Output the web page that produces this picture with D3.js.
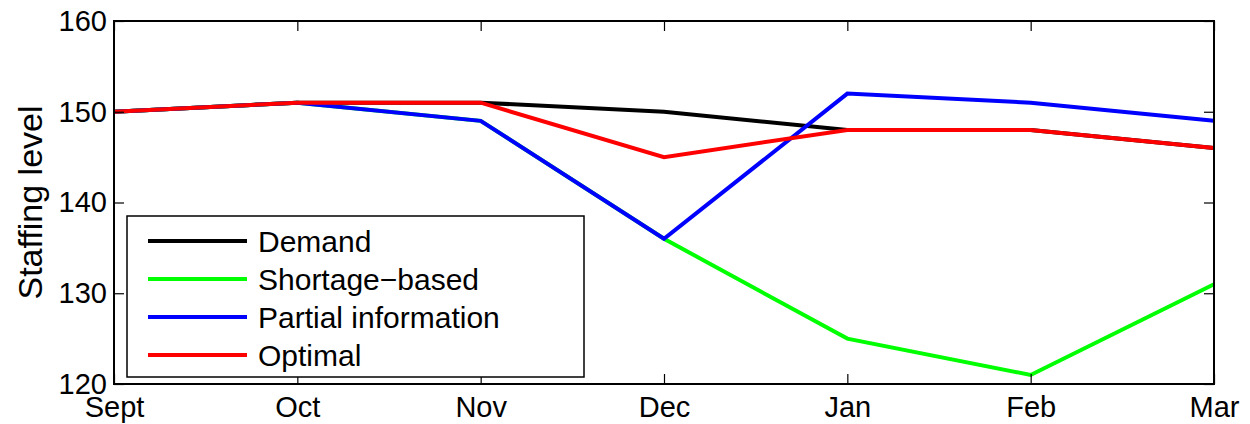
<!DOCTYPE html>
<html>
<head>
<meta charset="utf-8">
<script src="https://d3js.org/d3.v7.min.js"></script>
<style>
  body { margin: 0; background: #fff; }
  text { font-family: "Liberation Sans", Arial, sans-serif; fill: #000; }
</style>
</head>
<body>
<div id="chart"></div>
<script>
var months = ["Sept", "Oct", "Nov", "Dec", "Jan", "Feb", "Mar"];
var demand = [150, 151, 151, 150, 148, 148, 146];
var shortage = [150, 151, 149, 136, 125, 121, 131];
var partial = [150, 151, 149, 136, 152, 151, 149];
var optimal = [150, 151, 151, 145, 148, 148, 146];
var yTicks = [120, 130, 140, 150, 160];

var series = [
    { name: "Demand", color: "#000000", values: demand },
    { name: "Shortage\u2212based", color: "#00ff00", values: shortage },
    { name: "Partial information", color: "#0000ff", values: partial },
    { name: "Optimal", color: "#ff0000", values: optimal }
];

var margin = { top: 21, right: 36, bottom: 40, left: 114 },
    width = 1250 - margin.left - margin.right,
    height = 424 - margin.top - margin.bottom;

var svg = d3.select("#chart").append("svg")
    .attr("width", 1250)
    .attr("height", 424);

var main = svg.append("g")
    .attr("transform", "translate(" + margin.left + "," + margin.top + ")");

var x = d3.scalePoint()
    .domain(months)
    .range([0, width]);

var y = d3.scaleLinear()
    .domain([120, 160])
    .range([height, 0]);

var line = d3.line()
    .x(function (d, i) { return x(months[i]); })
    .y(function (d) { return y(d); });

// lines
main.selectAll(".series")
    .data(series)
    .enter().append("path")
    .attr("class", "series")
    .attr("d", function (d) { return line(d.values); })
    .attr("fill", "none")
    .attr("stroke", function (d) { return d.color; })
    .attr("stroke-width", 4)
    .attr("stroke-linejoin", "miter");

// axes (ticks inward, box style)
var tickStyle = function (g) {
    g.select(".domain").remove();
    g.selectAll(".tick line").attr("stroke", "#000").attr("stroke-width", 1.2);
    g.selectAll(".tick text").attr("font-size", 29).attr("fill", "#000");
};

main.append("g")
    .attr("transform", "translate(0," + height + ")")
    .call(d3.axisBottom(x).tickSizeInner(-10).tickSizeOuter(0).tickPadding(12))
    .call(tickStyle)
    .selectAll(".tick text").attr("dy", "0.71em");

main.append("g")
    .call(d3.axisTop(x).tickSizeInner(-10).tickSizeOuter(0).tickFormat(""))
    .call(tickStyle);

main.append("g")
    .call(d3.axisLeft(y).tickValues(yTicks).tickSizeInner(-10).tickSizeOuter(0).tickPadding(7))
    .call(tickStyle);

main.append("g")
    .attr("transform", "translate(" + width + ",0)")
    .call(d3.axisRight(y).tickValues(yTicks).tickSizeInner(-10).tickSizeOuter(0).tickFormat(""))
    .call(tickStyle);

main.append("rect")
    .attr("width", width)
    .attr("height", height)
    .attr("fill", "none")
    .attr("stroke", "#000")
    .attr("stroke-width", 2);

// y label
svg.append("text")
    .attr("transform", "translate(42," + (margin.top + height / 2) + ") rotate(-90)")
    .attr("text-anchor", "middle")
    .attr("font-size", 34)
    .text("Staffing level");

// legend
var legend = main.append("g")
    .attr("transform", "translate(13,195)");

legend.append("rect")
    .attr("width", 457)
    .attr("height", 161)
    .attr("fill", "#fff")
    .attr("stroke", "#000")
    .attr("stroke-width", 1.5);

var item = legend.selectAll(".item")
    .data(series)
    .enter().append("g")
    .attr("class", "item")
    .attr("transform", function (d, i) { return "translate(0," + (25 + i * 38) + ")"; });

item.append("line")
    .attr("x1", 21).attr("x2", 120)
    .attr("stroke", function (d) { return d.color; })
    .attr("stroke-width", 4);

item.append("text")
    .attr("x", 131)
    .attr("dy", "0.36em")
    .attr("font-size", 30)
    .text(function (d) { return d.name; });
</script>
</body>
</html>
